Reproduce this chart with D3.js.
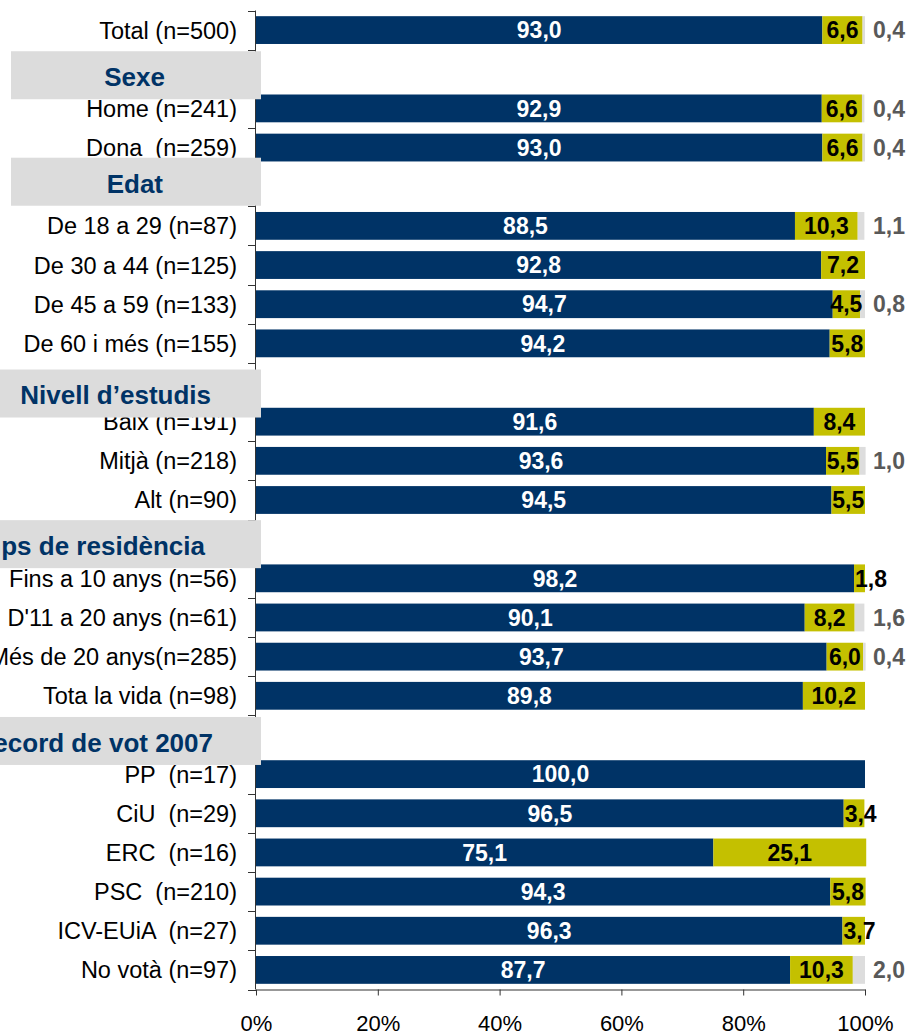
<!DOCTYPE html>
<html>
<head>
<meta charset="utf-8">
<script src="https://cdn.jsdelivr.net/npm/d3@7"></script>
<style>
  body { margin: 0; background: #fff; }
  svg { font-family: "Liberation Sans", Arial, sans-serif; }
  text { white-space: pre; }
</style>
</head>
<body>
<div id="chartspace"></div>
<script>
var categories = [
    "Total (n=500)",
    "Home (n=241)", "Dona  (n=259)",
    "De 18 a 29 (n=87)", "De 30 a 44 (n=125)", "De 45 a 59 (n=133)", "De 60 i més (n=155)",
    "Baix (n=191)", "Mitjà (n=218)", "Alt (n=90)",
    "Fins a 10 anys (n=56)", "D'11 a 20 anys (n=61)", "Més de 20 anys(n=285)", "Tota la vida (n=98)",
    "PP  (n=17)", "CiU  (n=29)", "ERC  (n=16)", "PSC  (n=210)", "ICV-EUiA  (n=27)", "No votà (n=97)"
];
var groups = [
    "",
    "Sexe", "Sexe",
    "Edat", "Edat", "Edat", "Edat",
    "Nivell d’estudis", "Nivell d’estudis", "Nivell d’estudis",
    "Temps de residència", "Temps de residència", "Temps de residència", "Temps de residència",
    "Record de vot 2007", "Record de vot 2007", "Record de vot 2007", "Record de vot 2007", "Record de vot 2007", "Record de vot 2007"
];
var serie1 = [93.0, 92.9, 93.0, 88.5, 92.8, 94.7, 94.2, 91.6, 93.6, 94.5, 98.2, 90.1, 93.7, 89.8, 100.0, 96.5, 75.1, 94.3, 96.3, 87.7];
var serie2 = [6.6, 6.6, 6.6, 10.3, 7.2, 4.5, 5.8, 8.4, 5.5, 5.5, 1.8, 8.2, 6.0, 10.2, 0, 3.4, 25.1, 5.8, 3.7, 10.3];
var serie3 = [0.4, 0.4, 0.4, 1.1, 0, 0.8, 0, 0, 1.0, 0, 0, 1.6, 0.4, 0, 0, 0, 0, 0, 0, 2.0];
var xTicks = [0, 20, 40, 60, 80, 100];

// header boxes: vertical shift, left edge, text end
var headerLayout = {
    "Sexe": { dy: 6, x0: 11, tx: 165 },
    "Edat": { dy: -5, x0: 11, tx: 163 },
    "Nivell d’estudis": { dy: 11, x0: 0, tx: 211 },
    "Temps de residència": { dy: 5, x0: 0, tx: 205 },
    "Record de vot 2007": { dy: 6, x0: 0, tx: 213 }
};

var colors = ["#003366", "#C4C000", "#DDDDDD"];
var fmt = function (v) { return d3.format(".1f")(v).replace(".", ","); };

// rows with header rows inserted
var rows = [];
categories.forEach(function (c, i) {
    if (groups[i] && groups[i] !== groups[i - 1]) rows.push({ key: "h" + i, header: groups[i] });
    rows.push({ key: c, label: c, v: [serie1[i], serie2[i], serie3[i]] });
});

var width = 907, height = 1036;
var svg = d3.select("#chartspace").append("svg")
    .attr("width", width)
    .attr("height", height);

var x = d3.scaleLinear().domain([0, 100]).range([256, 865]);
var y = d3.scaleBand()
    .domain(rows.map(function (d) { return d.key; }))
    .range([10.5, 989.5])
    .paddingInner(0.29)
    .paddingOuter(0.145);

var data = rows.filter(function (d) { return !d.header; });

var bar = svg.selectAll("g.row")
    .data(data)
    .enter().append("g")
    .attr("class", "row")
    .attr("transform", function (d) { return "translate(0," + y(d.key) + ")"; });

bar.each(function (d) {
    var g = d3.select(this), acc = 0;
    d.v.forEach(function (v, k) {
        if (v > 0) {
            g.append("rect")
                .attr("x", x(acc))
                .attr("width", x(acc + v) - x(acc))
                .attr("height", y.bandwidth())
                .attr("fill", colors[k]);
        }
        d["start" + k] = acc;
        d["mid" + k] = acc + v / 2;
        acc += v;
    });
});

// values
bar.append("text")
    .attr("x", function (d) { return x(d.mid0); })
    .attr("y", y.bandwidth() / 2)
    .attr("dy", "0.36em")
    .attr("text-anchor", "middle")
    .attr("fill", "#fff")
    .style("font-weight", "bold")
    .style("font-size", "23px")
    .text(function (d) { return fmt(d.v[0]); });

bar.filter(function (d) { return d.v[1] > 0; }).append("text")
    .attr("x", function (d) { return x(d.mid1); })
    .attr("y", y.bandwidth() / 2)
    .attr("dy", "0.36em")
    .attr("text-anchor", "middle")
    .attr("fill", "#000")
    .style("font-weight", "bold")
    .style("font-size", "23px")
    .text(function (d) { return fmt(d.v[1]); })
    .each(function (d) {
        // narrow segment at the end: label starts at segment start
        var w = this.getComputedTextLength();
        if (x(d.mid1) + w / 2 > x(100)) {
            d3.select(this).attr("text-anchor", "start").attr("x", x(d.start1) + 1);
        }
    });

bar.filter(function (d) { return d.v[2] > 0; }).append("text")
    .attr("x", x(100) + 8)
    .attr("y", y.bandwidth() / 2)
    .attr("dy", "0.36em")
    .attr("fill", "#595959")
    .style("font-weight", "bold")
    .style("font-size", "23px")
    .text(function (d) { return fmt(d.v[2]); });

// axes
var axisColor = "#333";
svg.append("line")
    .attr("x1", 255.5).attr("x2", 255.5)
    .attr("y1", 10.5).attr("y2", 989.5)
    .attr("stroke", axisColor);

var bounds = rows.map(function (d) { return y(d.key) - y.step() * y.paddingInner() / 2; });
bounds.push(989.5);
svg.selectAll("line.ytick")
    .data(bounds)
    .enter().append("line")
    .attr("class", "ytick")
    .attr("x1", 248).attr("x2", 256)
    .attr("y1", function (d) { return Math.round(d) + 0.5; })
    .attr("y2", function (d) { return Math.round(d) + 0.5; })
    .attr("stroke", axisColor);

var xAxis = svg.append("g")
    .attr("transform", "translate(0,989.5)")
    .call(d3.axisBottom(x).tickValues(xTicks).tickSize(6).tickSizeOuter(0)
        .tickFormat(function (d) { return d + "%"; }));
xAxis.select(".domain").attr("stroke", axisColor);
xAxis.selectAll(".tick line").attr("stroke", axisColor);
xAxis.selectAll(".tick text")
    .attr("y", 26)
    .attr("dy", "0.71em")
    .attr("fill", "#000")
    .style("font-size", "22px")
    .style("font-family", "'Liberation Sans', Arial, sans-serif");

// category labels
svg.selectAll("text.cat")
    .data(data)
    .enter().append("text")
    .attr("class", "cat")
    .attr("x", 237)
    .attr("y", function (d) { return y(d.key) + y.bandwidth() / 2; })
    .attr("dy", "0.36em")
    .attr("text-anchor", "end")
    .attr("fill", "#000")
    .style("font-size", "23.5px")
    .text(function (d) { return d.label; });

// group headers
var heads = svg.selectAll("g.head")
    .data(rows.filter(function (d) { return d.header; }))
    .enter().append("g")
    .attr("class", "head")
    .attr("transform", function (d) {
        return "translate(0," + (y(d.key) + y.bandwidth() / 2 + headerLayout[d.header].dy) + ")";
    });

heads.append("rect")
    .attr("x", function (d) { return headerLayout[d.header].x0; })
    .attr("y", -24)
    .attr("width", function (d) { return 261 - headerLayout[d.header].x0; })
    .attr("height", 48)
    .attr("fill", "#DCDCDC");

heads.append("text")
    .attr("x", function (d) { return headerLayout[d.header].tx; })
    .attr("dy", "0.42em")
    .attr("text-anchor", "end")
    .attr("fill", "#003366")
    .style("font-weight", "bold")
    .style("font-size", "26px")
    .text(function (d) { return d.header; });
</script>
</body>
</html>
